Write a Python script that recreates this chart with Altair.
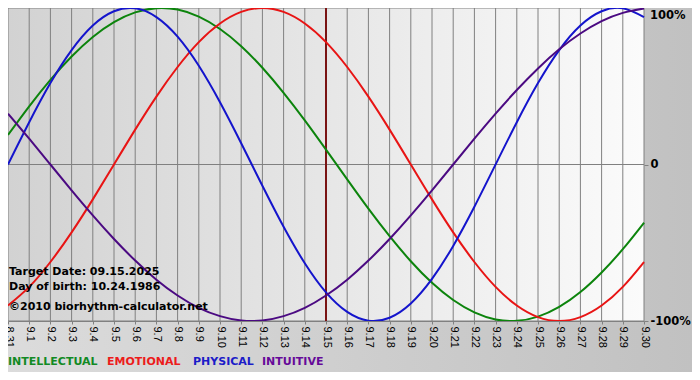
import altair as alt
import pandas as pd

days = ["8.31", "9.1", "9.2", "9.3", "9.4", "9.5", "9.6", "9.7", "9.8", "9.9", "9.10",
        "9.11", "9.12", "9.13", "9.14", "9.15", "9.16", "9.17", "9.18", "9.19", "9.20",
        "9.21", "9.22", "9.23", "9.24", "9.25", "9.26", "9.27", "9.28", "9.29", "9.30"]

intellectual = [0.189, 0.372, 0.541, 0.690, 0.815, 0.910, 0.972, 0.999, 0.990, 0.945, 0.866,
                0.756, 0.618, 0.458, 0.282, 0.095, -0.095, -0.282, -0.458, -0.618, -0.756,
                -0.866, -0.945, -0.990, -0.999, -0.972, -0.910, -0.815, -0.690, -0.541, -0.372]
emotional = [-0.901, -0.782, -0.623, -0.434, -0.223, 0.0, 0.223, 0.434, 0.623, 0.782, 0.901,
             0.975, 1.0, 0.975, 0.901, 0.782, 0.623, 0.434, 0.223, 0.0, -0.223,
             -0.434, -0.623, -0.782, -0.901, -0.975, -1.0, -0.975, -0.901, -0.782, -0.623]
physical = [0.0, 0.270, 0.520, 0.731, 0.888, 0.979, 0.998, 0.942, 0.817, 0.631, 0.398,
            0.136, -0.136, -0.398, -0.631, -0.817, -0.942, -0.998, -0.979, -0.888, -0.731,
            -0.520, -0.270, 0.0, 0.270, 0.520, 0.731, 0.888, 0.979, 0.998, 0.942]
intuitive = [0.325, 0.165, 0.0, -0.165, -0.325, -0.476, -0.614, -0.736, -0.837, -0.916, -0.969,
             -0.997, -0.997, -0.969, -0.916, -0.837, -0.736, -0.614, -0.476, -0.325, -0.165,
             0.0, 0.165, 0.325, 0.476, 0.614, 0.736, 0.837, 0.916, 0.969, 0.997]

series_names = ["INTELLECTUAL", "EMOTIONAL", "PHYSICAL", "INTUITIVE"]
curve_colors = ["#0c840c", "#e81414", "#1414cc", "#4b0a82"]
legend_colors = ["#128a24", "#ec1c1c", "#1c1cc8", "#660a99"]
legend_x = [0, 99, 185, 254]

target_day = "9.15"
info_lines = ["Target Date: 09.15.2025", "Day of birth: 10.24.1986", "\u00a92010 biorhythm-calculator.net"]
info_y = [264, 279, 299]

y_ticks = [-1, 0, 1]
y_label_ticks = [-1, 0]
top_label = "100%"

W, H = 636, 313

idx = list(range(len(days)))
rows = []
for name, vals in zip(series_names, [intellectual, emotional, physical, intuitive]):
    for i, d, v in zip(idx, days, vals):
        rows.append({"i": i, "day": d, "value": v, "series": name})
df = pd.DataFrame(rows)

label_array = "[" + ",".join("'" + d + "'" for d in days) + "]"

x_axis = alt.Axis(title=None, values=idx, labelExpr=label_array + "[datum.value]",
                  labelAngle=90, labelFont="Liberation Sans", labelFontSize=11,
                  labelColor="#000000", labelPadding=2, tickSize=3, tickColor="#808080",
                  domain=True, domainColor="#808080", grid=False, zindex=1,
                  labelOverlap=False, labelFlush=False, labelBound=False)
y_axis = alt.Axis(title=None, orient="right", values=y_label_ticks,
                  labelExpr="datum.value == 0 ? '0' : '-100%'",
                  labelFont="DejaVu Sans", labelFontWeight="bold", labelFontSize=11.5,
                  labelColor="#000000", labelPadding=2, tickSize=4, tickColor="#808080",
                  domain=False, grid=False, zindex=1, labelFlush=False)

x_enc = alt.X("i:Q", scale=alt.Scale(domain=[0, len(days) - 1], nice=False, zero=False), axis=x_axis)
y_enc = alt.Y("value:Q", scale=alt.Scale(domain=[-1, 1], nice=False, zero=False), axis=y_axis)

one = pd.DataFrame({"a": [0]})

outer_bg = alt.Chart(one).mark_rect(
    fill=alt.LinearGradient(gradient="linear", x1=0, x2=1, y1=0, y2=0,
                            stops=[alt.GradientStop(color="#dcdcdc", offset=0),
                                   alt.GradientStop(color="#c0c0c0", offset=1)])
).encode(x=alt.value(-10), x2=alt.value(710), y=alt.value(-10), y2=alt.value(400))

plot_bg = alt.Chart(one).mark_rect(
    fill=alt.LinearGradient(gradient="linear", x1=0, x2=1, y1=0, y2=0,
                            stops=[alt.GradientStop(color="#d2d2d2", offset=0),
                                   alt.GradientStop(color="#fbfbfb", offset=1)])
).encode(x=alt.value(0), x2=alt.value(W), y=alt.value(0), y2=alt.value(H))

vgrid = alt.Chart(pd.DataFrame({"i": idx})).mark_rule(color="#808080", strokeWidth=1).encode(x=x_enc)
hgrid = alt.Chart(pd.DataFrame({"value": y_ticks})).mark_rule(color="#808080", strokeWidth=1).encode(y=y_enc)

target = alt.Chart(pd.DataFrame({"i": [days.index(target_day)]})).mark_rule(
    color="#7a1414", strokeWidth=2).encode(x=x_enc)

lines = alt.Chart(df).mark_line(strokeWidth=2, interpolate="natural").encode(
    x=x_enc, y=y_enc,
    color=alt.Color("series:N", scale=alt.Scale(domain=series_names, range=curve_colors), legend=None),
    detail="series:N",
)

top_text = alt.Chart(one).mark_text(text=top_label, align="left", baseline="top", font="DejaVu Sans",
                                    fontWeight="bold", fontSize=11.5, color="#000000").encode(
    x=alt.value(W + 6), y=alt.value(2))

info_layers = [
    alt.Chart(one).mark_text(text=t, align="left", baseline="middle", font="DejaVu Sans",
                             fontWeight="bold", fontSize=11, color="#000000")
    .encode(x=alt.value(1), y=alt.value(yy))
    for t, yy in zip(info_lines, info_y)
]

legend_layers = [
    alt.Chart(one).mark_text(text=n, align="left", baseline="middle", font="DejaVu Sans",
                             fontWeight="bold", fontSize=11, color=c)
    .encode(x=alt.value(xx), y=alt.value(354))
    for n, c, xx in zip(series_names, legend_colors, legend_x)
]

chart = alt.layer(outer_bg, plot_bg, vgrid, hgrid, target, lines, top_text,
                  *info_layers, *legend_layers).properties(
    width=W, height=H,
    autosize=alt.AutoSizeParams(type="none"),
    padding={"left": 0, "top": 0, "right": 48, "bottom": 51},
    background="#c8c8c8",
).configure_view(stroke=None)

chart.save("out.html", embed_options={"renderer": "svg", "actions": False})
